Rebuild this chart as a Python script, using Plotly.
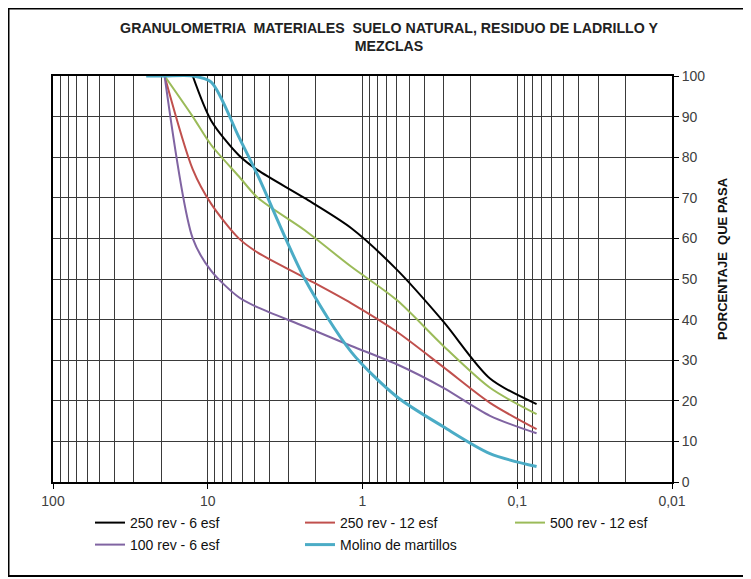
import plotly.graph_objects as go

# Sieve openings (mm)
sizes = [25, 19, 12.5, 9.5, 6.3, 4.75, 2.36, 1.18, 0.6, 0.3, 0.15, 0.075]

# Percent passing for each mix
s_250_6 = [None, None, 100, 89, 80.5, 76.8, 69.9, 62.5, 52.3, 39.5, 25.5, 19.2]
s_250_12 = [None, 100, 77, 68.5, 60, 56.5, 50.3, 44, 37, 28.3, 19.5, 13]
s_500_12 = [None, 100, 90, 83, 75.3, 70, 62, 53, 44.8, 33.5, 23.2, 16.7]
s_100_6 = [None, 100, 60, 52, 45.5, 43, 38.3, 33.5, 29, 23.2, 16.3, 12]
s_molino = [100, 100, 100, 98.5, 85, 75.5, 50, 32, 21, 13.6, 7, 3.8]

names = ["250 rev - 6 esf", "250 rev - 12 esf", "500 rev - 12 esf",
         "100 rev - 6 esf", "Molino de martillos"]
colors = ["#000000", "#C0504D", "#9BBB59", "#8064A2", "#4BACC6"]
widths = [2, 2, 2, 2, 3]
series = [s_250_6, s_250_12, s_500_12, s_100_6, s_molino]

x_tickvals = [100, 10, 1, 0.1, 0.01]
x_ticktext = ["100", "10", "1", "0,1", "0,01"]
minor_vals = [m * d for d in [0.01, 0.1, 1, 10] for m in range(2, 10)]

W, H = 751, 579
# plot area in figure pixels
PL, PR, PT, PB = 45, 664, 68, 474
PW, PH = PR - PL, PB - PT

# legend entry anchor pixels (column, row)
leg_pos = [(82, 499), (292, 499), (502, 499), (82, 521), (292, 521)]

FONT = "Liberation Sans, Arial, sans-serif"
grid_c = "#3a3a3a"

fig = go.Figure()
layout_legends = {}
for i, (n, c, w, s) in enumerate(zip(names, colors, widths, series)):
    xs = [x for x, v in zip(sizes, s) if v is not None]
    ys = [v for v in s if v is not None]
    lname = "legend" if i == 0 else f"legend{i + 1}"
    fig.add_trace(go.Scatter(x=xs, y=ys, name=n, mode="lines", legend=lname,
                             line=dict(color=c, width=w, shape="spline", smoothing=0.8)))
    px, py = leg_pos[i]
    layout_legends[lname] = dict(
        orientation="h", x=(px - PL) / PW, xanchor="left",
        y=(PB - py) / PH, yanchor="top",
        font=dict(family=FONT, size=14, color="#111111"),
        bgcolor="rgba(0,0,0,0)", itemwidth=30,
    )

fig.update_layout(
    width=W, height=H,
    margin=dict(l=PL, r=W - PR, t=PT, b=H - PB, autoexpand=False),
    paper_bgcolor="white", plot_bgcolor="white",
    font=dict(family=FONT, size=14, color="#404040"),
    title=dict(text="<b>GRANULOMETRIA  MATERIALES  SUELO NATURAL, RESIDUO DE LADRILLO Y<br>MEZCLAS</b>",
               x=381 / W, xanchor="center", xref="container",
               y=1 - 25 / H, yanchor="top", yref="container",
               font=dict(family=FONT, size=14.2, color="#222222")),
    showlegend=True,
    **layout_legends,
)

fig.update_xaxes(
    type="log", range=[2, -2],
    tickvals=x_tickvals, ticktext=x_ticktext,
    ticks="outside", ticklen=5, tickcolor="black", tickwidth=1,
    showgrid=True, gridcolor=grid_c, gridwidth=1,
    minor=dict(tickvals=minor_vals, showgrid=True, gridcolor=grid_c, gridwidth=1, ticks=""),
    showline=True, linecolor="black", linewidth=2, mirror=True,
    zeroline=False, automargin=False,
    tickfont=dict(family=FONT, size=14, color="#404040"),
)
fig.update_yaxes(
    range=[0, 100], dtick=10, side="right",
    ticks="outside", ticklen=5, tickcolor="black", tickwidth=1,
    showgrid=True, gridcolor=grid_c, gridwidth=1,
    showline=True, linecolor="black", linewidth=2, mirror=True,
    zeroline=False, automargin=False,
    tickfont=dict(family=FONT, size=14, color="#404040"),
)

# y axis title (placed as annotation to match its offset position)
fig.add_annotation(text="<b>PORCENTAJE  QUE PASA</b>", textangle=-90,
                   xref="paper", yref="paper",
                   x=(715 - PL) / PW, y=(PB - 251) / PH,
                   xanchor="center", yanchor="middle", showarrow=False,
                   font=dict(family=FONT, size=13, color="#111111"))

# outer chart frame
fig.add_shape(type="rect", xref="paper", yref="paper",
              x0=(0.5 - PL) / PW, x1=(737 - PL) / PW,
              y0=(PB - 568) / PH, y1=(PB - 0.5) / PH,
              line=dict(color="black", width=2), fillcolor="rgba(0,0,0,0)", layer="below")

fig.write_html("out.html")
